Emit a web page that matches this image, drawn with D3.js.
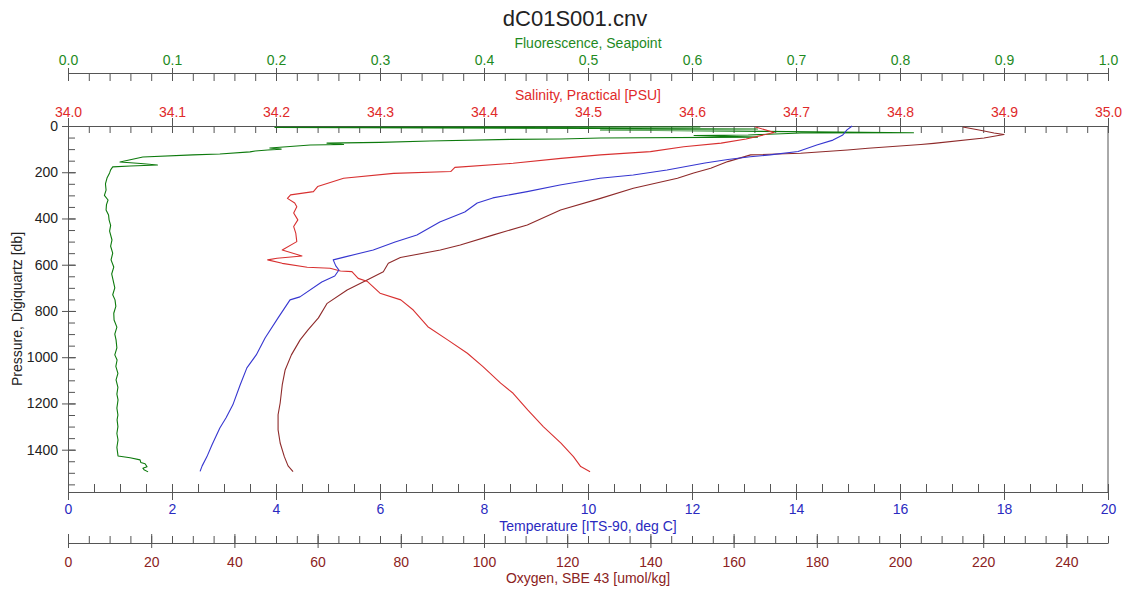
<!DOCTYPE html>
<html>
<head>
<meta charset="utf-8">
<script src="https://cdn.jsdelivr.net/npm/d3@7"></script>
<style>
  body { margin: 0; background: #fff; }
  svg { display: block; font-family: "Liberation Sans", Arial, sans-serif; }
</style>
</head>
<body>
<script>
// profile data: [pressure db, value]
var fluorescence = [
  [4, 0.608], [6, 0.199], [13, 0.663], [17, 0.512], [29, 0.813], [30, 0.705], [39, 0.654], [41, 0.602],
  [48, 0.663], [52, 0.512], [56, 0.474], [58, 0.425], [65, 0.348], [71, 0.300], [74, 0.249], [80, 0.265],
  [82, 0.233], [95, 0.194], [100, 0.205], [104, 0.192], [108, 0.180], [112, 0.175], [121, 0.146], [125, 0.120],
  [134, 0.072], [156, 0.050], [162, 0.070], [169, 0.086], [173, 0.060], [177, 0.043], [190, 0.041], [203, 0.040],
  [225, 0.0375], [250, 0.036], [277, 0.0366], [300, 0.035], [320, 0.0385], [340, 0.037], [363, 0.0366], [385, 0.039],
  [406, 0.0395], [430, 0.041], [455, 0.040], [493, 0.0423], [520, 0.041], [550, 0.043], [579, 0.0414], [610, 0.044],
  [640, 0.042], [666, 0.0433], [700, 0.045], [730, 0.043], [752, 0.0452], [780, 0.046], [810, 0.044], [839, 0.0443],
  [870, 0.047], [900, 0.045], [925, 0.0462], [960, 0.047], [990, 0.045], [1012, 0.0472], [1040, 0.046], [1070, 0.048],
  [1098, 0.0462], [1130, 0.048], [1160, 0.047], [1185, 0.0481], [1220, 0.047], [1250, 0.048], [1271, 0.0472], [1300, 0.048],
  [1330, 0.047], [1358, 0.0481], [1390, 0.047], [1427, 0.0481], [1435, 0.0597], [1444, 0.0693], [1455, 0.070], [1461, 0.0741],
  [1474, 0.076], [1480, 0.072], [1487, 0.0731], [1496, 0.077]
];

var salinity = [
  [4, 34.661], [28, 34.679], [56, 34.652], [74, 34.628], [90, 34.592], [111, 34.560], [125, 34.512], [140, 34.474],
  [161, 34.428], [179, 34.372], [197, 34.368], [205, 34.313], [226, 34.265], [262, 34.240], [284, 34.236], [298, 34.214],
  [313, 34.211], [333, 34.218], [349, 34.220], [376, 34.217], [406, 34.221], [435, 34.217], [463, 34.219], [500, 34.220],
  [536, 34.206], [562, 34.225], [572, 34.201], [579, 34.192], [594, 34.206], [611, 34.230], [615, 34.252], [627, 34.262],
  [630, 34.273], [659, 34.279], [673, 34.288], [723, 34.300], [752, 34.320], [796, 34.332], [868, 34.346], [925, 34.365],
  [983, 34.384], [1041, 34.399], [1112, 34.416], [1156, 34.428], [1228, 34.442], [1300, 34.457], [1372, 34.474], [1430, 34.486],
  [1473, 34.493], [1495, 34.502]
];

var temperature = [
  [0, 15.08], [17, 14.98], [39, 14.90], [61, 14.71], [82, 14.40], [110, 14.04], [125, 13.50], [133, 13.12],
  [145, 12.69], [160, 12.25], [190, 11.52], [212, 10.87], [226, 10.23], [255, 9.46], [284, 8.83], [311, 8.17],
  [333, 7.87], [372, 7.63], [415, 7.15], [471, 6.71], [502, 6.29], [536, 5.87], [566, 5.33], [579, 5.10],
  [605, 5.15], [623, 5.21], [649, 5.13], [675, 4.88], [739, 4.46], [752, 4.27], [830, 4.04], [917, 3.79],
  [990, 3.62], [1046, 3.44], [1120, 3.31], [1206, 3.17], [1262, 3.04], [1306, 2.92], [1379, 2.77], [1431, 2.67],
  [1470, 2.58], [1494, 2.54]
];

var oxygen = [
  [4, 215.1], [17, 219.0], [30, 222.6], [37, 225.0], [52, 220.2], [75, 208.1], [80, 205.0], [96, 192.3],
  [104, 187.4], [118, 176.1], [125, 164.1], [154, 158.6], [183, 154.5], [203, 150.4], [226, 146.5], [269, 135.9],
  [313, 128.0], [363, 118.4], [428, 110.4], [471, 102.3], [515, 94.3], [536, 89.5], [569, 79.9], [594, 77.0],
  [630, 75.8], [666, 71.9], [709, 67.1], [767, 62.3], [830, 60.2], [882, 57.7], [925, 55.8], [990, 53.7],
  [1055, 52.2], [1120, 51.5], [1198, 51.0], [1249, 50.5], [1314, 50.5], [1371, 51.0], [1430, 52.0], [1470, 52.9],
  [1495, 54.1]
];

// tick labels
var fluoroTicks = [0.0, 0.1, 0.2, 0.3, 0.4, 0.5, 0.6, 0.7, 0.8, 0.9, 1.0];
var salinityTicks = [34.0, 34.1, 34.2, 34.3, 34.4, 34.5, 34.6, 34.7, 34.8, 34.9, 35.0];
var tempTicks = [0, 2, 4, 6, 8, 10, 12, 14, 16, 18, 20];
var oxygenTicks = [0, 20, 40, 60, 80, 100, 120, 140, 160, 180, 200, 220, 240];
var pressureTicks = [0, 200, 400, 600, 800, 1000, 1200, 1400];

var colors = {
  fluoro: "#1e8a1e", fluoroLine: "#0d7a0d",
  sal: "#e02a2a", salLine: "#d83030",
  temp: "#2a2ac0", tempLine: "#3636d0",
  oxy: "#8b2222", oxyLine: "#8e2a2a",
  axis: "#555"
};

var width = 1128, height = 591;
var plot = {left: 68, right: 1108, top: 126, bottom: 492};

var svg = d3.select("body").append("svg")
    .attr("width", width)
    .attr("height", height);

svg.append("rect").attr("width", width).attr("height", height).attr("fill", "#fff");

var y = d3.scaleLinear().domain([0, 1583]).range([plot.top, plot.bottom]);
var xF = d3.scaleLinear().domain([0, 1]).range([plot.left, plot.right]);
var xS = d3.scaleLinear().domain([34, 35]).range([plot.left, plot.right]);
var xT = d3.scaleLinear().domain([0, 20]).range([plot.left, plot.right]);
var xO = d3.scaleLinear().domain([0, 250]).range([plot.left, plot.right]);

var fmt1 = d3.format(".1f");
var fmtInt = d3.format("d");

//styles an axis group after d3 drew it
function styleAxis(g, color) {
  g.attr("font-family", null).attr("font-size", 14);
  g.selectAll(".domain").attr("stroke", colors.axis);
  g.selectAll(".tick line").attr("stroke", colors.axis);
  g.selectAll(".tick text").attr("fill", color);
}

// fluorescence axis (top, upper)
var gF = svg.append("g").attr("transform", "translate(0,73)");
gF.call(d3.axisTop(xF).tickValues(fluoroTicks).tickFormat(fmt1).tickSizeOuter(0).tickSizeInner(5).tickPadding(3));
gF.selectAll(".tick line").attr("y1", -5).attr("y2", 8);
gF.append("g").call(d3.axisTop(xF).tickValues(d3.range(0, 1.001, 0.02)).tickFormat("").tickSizeOuter(0))
  .call(function (g) { g.select(".domain").remove(); })
  .selectAll(".tick line").attr("y1", 0).attr("y2", 8);
styleAxis(gF, colors.fluoro);

// salinity axis (top of plot)
var gS = svg.append("g").attr("transform", "translate(0," + plot.top + ")");
gS.call(d3.axisTop(xS).tickValues(salinityTicks).tickFormat(fmt1).tickSizeOuter(0).tickSizeInner(8).tickPadding(1));
gS.selectAll(".tick line").attr("y1", -8).attr("y2", 7);
gS.append("g").call(d3.axisTop(xS).tickValues(d3.range(34, 35.001, 0.02)).tickFormat("").tickSizeOuter(0))
  .call(function (g) { g.select(".domain").remove(); })
  .selectAll(".tick line").attr("y1", 0).attr("y2", 7);
styleAxis(gS, colors.sal);

// temperature axis (bottom of plot)
var gT = svg.append("g").attr("transform", "translate(0," + plot.bottom + ")");
gT.call(d3.axisBottom(xT).tickValues(tempTicks).tickFormat(fmtInt).tickSizeOuter(0));
gT.selectAll(".tick line").attr("y1", -8).attr("y2", 8);
gT.selectAll(".tick text").attr("y", 22).attr("dy", null);
gT.append("g").call(d3.axisBottom(xT).tickValues(d3.range(0, 20.001, 0.5)).tickFormat("").tickSizeOuter(0))
  .call(function (g) { g.select(".domain").remove(); })
  .selectAll(".tick line").attr("y1", -8).attr("y2", 0);
styleAxis(gT, colors.temp);

// oxygen axis (lowest)
var gO = svg.append("g").attr("transform", "translate(0,543)");
gO.call(d3.axisBottom(xO).tickValues(oxygenTicks).tickFormat(fmtInt).tickSizeOuter(0));
gO.selectAll(".tick line").attr("y1", -9).attr("y2", 5);
gO.selectAll(".tick text").attr("y", 24).attr("dy", null);
gO.append("g").call(d3.axisBottom(xO).tickValues(d3.range(0, 250.001, 5)).tickFormat("").tickSizeOuter(0))
  .call(function (g) { g.select(".domain").remove(); })
  .selectAll(".tick line").attr("y1", -7).attr("y2", 0);
styleAxis(gO, colors.oxy);

// pressure axis (left)
var gP = svg.append("g").attr("transform", "translate(" + plot.left + ",0)");
gP.call(d3.axisLeft(y).tickValues(pressureTicks).tickFormat(fmtInt).tickSizeOuter(0).tickSizeInner(6).tickPadding(4));
gP.selectAll(".tick line").attr("x1", -6).attr("x2", 8);
gP.append("g").call(d3.axisLeft(y).tickValues(d3.range(0, 1583, 50)).tickFormat("").tickSizeOuter(0))
  .call(function (g) { g.select(".domain").remove(); })
  .selectAll(".tick line").attr("x1", 0).attr("x2", 7);
styleAxis(gP, "#222");

// right frame
svg.append("line")
  .attr("x1", plot.right).attr("x2", plot.right)
  .attr("y1", plot.top).attr("y2", plot.bottom)
  .attr("stroke", colors.axis);

// titles
svg.append("text").attr("x", 575).attr("y", 26).attr("text-anchor", "middle")
  .attr("font-size", 22).attr("fill", "#222").text("dC01S001.cnv");

var mid = (plot.left + plot.right) / 2;
svg.append("text").attr("x", mid).attr("y", 48).attr("text-anchor", "middle")
  .attr("font-size", 14).attr("fill", colors.fluoro).text("Fluorescence, Seapoint");
svg.append("text").attr("x", mid).attr("y", 100).attr("text-anchor", "middle")
  .attr("font-size", 14).attr("fill", colors.sal).text("Salinity, Practical [PSU]");
svg.append("text").attr("x", mid).attr("y", 531).attr("text-anchor", "middle")
  .attr("font-size", 14).attr("fill", colors.temp).text("Temperature [ITS-90, deg C]");
svg.append("text").attr("x", mid).attr("y", 583).attr("text-anchor", "middle")
  .attr("font-size", 14).attr("fill", colors.oxy).text("Oxygen, SBE 43 [umol/kg]");
svg.append("text").attr("transform", "translate(22," + ((plot.top + plot.bottom) / 2) + ") rotate(-90)")
  .attr("text-anchor", "middle").attr("font-size", 14).attr("fill", "#222")
  .text("Pressure, Digiquartz [db]");

// profiles
function profileLine(xScale) {
  return d3.line()
    .x(function (d) { return xScale(d[1]); })
    .y(function (d) { return y(d[0]); });
}

var series = [
  {data: fluorescence, scale: xF, color: colors.fluoroLine},
  {data: oxygen, scale: xO, color: colors.oxyLine},
  {data: salinity, scale: xS, color: colors.salLine},
  {data: temperature, scale: xT, color: colors.tempLine}
];

for (var i = 0; i < series.length; i++) {
  svg.append("path")
    .datum(series[i].data)
    .attr("d", profileLine(series[i].scale))
    .attr("fill", "none")
    .attr("stroke", series[i].color)
    .attr("stroke-width", 1.1)
    .attr("stroke-linejoin", "round");
}
</script>
</body>
</html>
